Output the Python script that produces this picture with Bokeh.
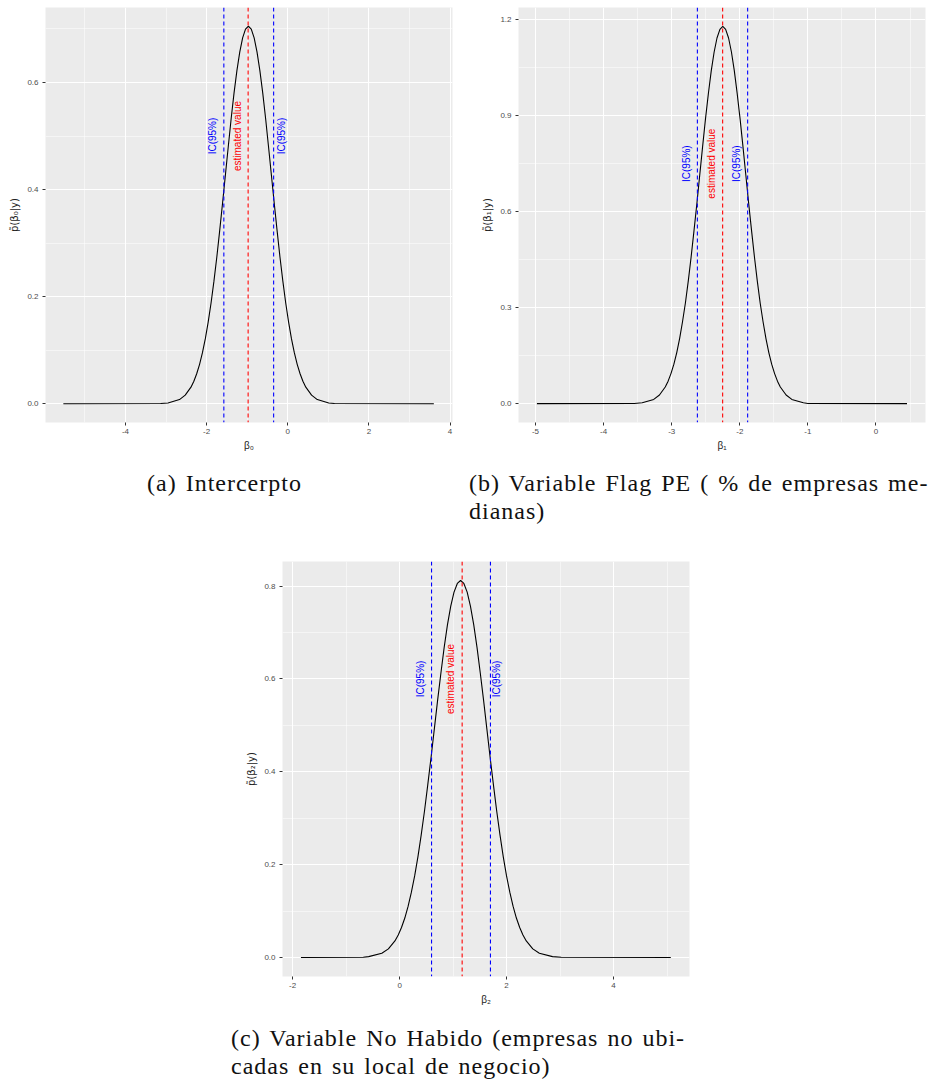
import math
from bokeh.plotting import figure
from bokeh.models import Range1d, FixedTicker, PrintfTickFormatter, Span, Div, Spacer
from bokeh.layouts import row, column
from bokeh.core.properties import value
from bokeh.embed import file_html
from bokeh.resources import INLINE

# ---------------- data ----------------
# (a) Intercepto: posterior marginal of beta0
a_x = [-5.53, -3.13, -2.951, -2.668, -2.527, -2.385, -2.314, -2.244, -2.173, -2.102, -2.031, -1.961, -1.890,
       -1.819, -1.748, -1.678, -1.607, -1.536, -1.465, -1.395, -1.324, -1.253, -1.182, -1.112, -1.041, -0.970,
       -0.899, -0.828, -0.758, -0.687, -0.616, -0.545, -0.475, -0.404, -0.333, -0.262, -0.192, -0.121, -0.050,
       0.021, 0.091, 0.162, 0.233, 0.304, 0.374, 0.445, 0.587, 0.728, 1.011, 1.15, 3.60]
a_y = [0.0, 0.0004, 0.0015, 0.0078, 0.0161, 0.0310, 0.0420, 0.0561, 0.0737, 0.0954, 0.1216, 0.1525, 0.1881,
       0.2289, 0.2740, 0.3228, 0.3744, 0.4276, 0.4808, 0.5322, 0.5801, 0.6222, 0.6571, 0.6833, 0.6995, 0.705,
       0.6995, 0.6833, 0.6571, 0.6222, 0.5801, 0.5322, 0.4808, 0.4276, 0.3744, 0.3228, 0.2740, 0.2289, 0.1881,
       0.1525, 0.1216, 0.0954, 0.0737, 0.0561, 0.0420, 0.0310, 0.0161, 0.0078, 0.0015, 0.0004, 0.0]
a_lines = [-1.575, -0.977, -0.348]          # IC low, estimated value, IC high
a_text_x = [-1.86, -1.247, -0.165]
a_text_y = 0.5

# (b) Flag PE: posterior marginal of beta1
b_x = [-4.98, -3.55, -3.433, -3.264, -3.180, -3.095, -3.053, -3.011, -2.968, -2.926, -2.884, -2.842, -2.799,
       -2.757, -2.715, -2.673, -2.630, -2.588, -2.546, -2.504, -2.461, -2.419, -2.377, -2.335, -2.292, -2.250,
       -2.208, -2.165, -2.123, -2.081, -2.039, -1.996, -1.954, -1.912, -1.870, -1.827, -1.785, -1.743, -1.701,
       -1.658, -1.616, -1.574, -1.532, -1.489, -1.447, -1.405, -1.320, -1.236, -1.067, -1.00, 0.455]
b_y = [0.0, 0.0005, 0.0026, 0.0131, 0.0269, 0.0518, 0.0702, 0.0938, 0.1232, 0.1596, 0.2033, 0.2550, 0.3146,
       0.3828, 0.4583, 0.5398, 0.6262, 0.7151, 0.8041, 0.8900, 0.9701, 1.0405, 1.0989, 1.1427, 1.1698, 1.179,
       1.1698, 1.1427, 1.0989, 1.0405, 0.9701, 0.8900, 0.8041, 0.7151, 0.6262, 0.5398, 0.4583, 0.3828, 0.3146,
       0.2550, 0.2033, 0.1596, 0.1232, 0.0938, 0.0702, 0.0518, 0.0269, 0.0131, 0.0026, 0.0005, 0.0]
b_lines = [-2.623, -2.252, -1.885]
b_text_x = [-2.79, -2.413, -2.047]
b_text_y = 0.75

# (c) No Habido: posterior marginal of beta2
c_x = [-1.845, -0.68, -0.579, -0.333, -0.210, -0.088, -0.026, 0.035, 0.097, 0.158, 0.219, 0.281, 0.342,
       0.403, 0.465, 0.526, 0.588, 0.649, 0.710, 0.772, 0.833, 0.894, 0.956, 1.017, 1.079, 1.140,
       1.201, 1.263, 1.324, 1.386, 1.447, 1.508, 1.570, 1.631, 1.692, 1.754, 1.815, 1.877, 1.938,
       1.999, 2.061, 2.122, 2.183, 2.245, 2.306, 2.368, 2.490, 2.613, 2.859, 3.02, 5.07]
c_y = [0.0, 0.0004, 0.0018, 0.0090, 0.0185, 0.0357, 0.0484, 0.0646, 0.0849, 0.1099, 0.1400, 0.1756, 0.2167,
       0.2636, 0.3156, 0.3718, 0.4313, 0.4925, 0.5538, 0.6129, 0.6681, 0.7166, 0.7568, 0.7870, 0.8057, 0.812,
       0.8057, 0.7870, 0.7568, 0.7166, 0.6681, 0.6129, 0.5538, 0.4925, 0.4313, 0.3718, 0.3156, 0.2636, 0.2167,
       0.1756, 0.1400, 0.1099, 0.0849, 0.0646, 0.0484, 0.0357, 0.0185, 0.0090, 0.0018, 0.0004, 0.0]
c_lines = [0.597, 1.169, 1.698]
c_text_x = [0.392, 0.958, 1.81]
c_text_y = 0.6

assert len(a_x) == len(a_y) and len(b_x) == len(b_y) and len(c_x) == len(c_y)

line_colors = ["#0000FF", "#FF0000", "#0000FF"]
text_labels = ["IC(95%)", "estimated value", "IC(95%)"]

a_xticks, a_xminor = [-4, -2, 0, 2, 4], [-5, -3, -1, 1, 3]
a_yticks, a_yminor = [0.0, 0.2, 0.4, 0.6], [0.1, 0.3, 0.5, 0.7]
b_xticks, b_xminor = [-5, -4, -3, -2, -1, 0], [-4.5, -3.5, -2.5, -1.5, -0.5, 0.5]
b_yticks, b_yminor = [0.0, 0.3, 0.6, 0.9, 1.2], [0.15, 0.45, 0.75, 1.05]
c_xticks, c_xminor = [-2, 0, 2, 4], [-1, 1, 3, 5]
c_yticks, c_yminor = [0.0, 0.2, 0.4, 0.6, 0.8], [0.1, 0.3, 0.5, 0.7]

captions = {
    "a": "(a) Intercerpto",
    "b": "(b) Variable Flag PE ( % de empresas me-<br>dianas)",
    "c": "(c) Variable No Habido (empresas no ubi-<br>cadas en su local de negocio)",
}

SANS = "Liberation Sans"


def panel(xs, ys, lines, tx, ty, xr, yr, xt, xm, yt, ym, xlab, ylab, bl, br, bt, bb):
    p = figure(frame_width=407, frame_height=415, x_range=Range1d(*xr), y_range=Range1d(*yr),
               output_backend="svg", toolbar_location=None,
               min_border_left=bl, min_border_right=br, min_border_top=bt, min_border_bottom=bb)
    p.background_fill_color = "#EBEBEB"
    p.border_fill_color = "white"
    p.outline_line_color = None
    p.xaxis.ticker = FixedTicker(ticks=xt, minor_ticks=xm)
    p.yaxis.ticker = FixedTicker(ticks=yt, minor_ticks=ym)
    p.xaxis.formatter = PrintfTickFormatter(format="%d")
    p.yaxis.formatter = PrintfTickFormatter(format="%.1f")
    for g in (p.xgrid[0], p.ygrid[0]):
        g.grid_line_color = "white"
        g.grid_line_width = 1.1
        g.minor_grid_line_color = "white"
        g.minor_grid_line_width = 0.5
    for ax in (p.xaxis[0], p.yaxis[0]):
        ax.axis_line_color = None
        ax.major_tick_line_color = "#333333"
        ax.major_tick_out = 3
        ax.major_tick_in = 0
        ax.minor_tick_line_color = None
        ax.major_label_text_font = SANS
        ax.major_label_text_font_size = "8px"
        ax.major_label_text_color = "#4D4D4D"
        ax.axis_label_text_font = SANS
        ax.axis_label_text_font_size = "10px"
        ax.axis_label_text_color = "#222222"
        ax.axis_label_text_font_style = "normal"
    p.yaxis.axis_label_text_font = "DejaVu Sans"
    p.yaxis.axis_label_text_font_size = "10px"
    p.xaxis.major_label_standoff = 2
    p.xaxis.axis_label_standoff = 3
    p.yaxis.major_label_standoff = 3
    p.yaxis.axis_label_standoff = 4
    p.xaxis.axis_label = xlab
    p.yaxis.axis_label = ylab

    p.line(xs, ys, line_color="black", line_width=1.1)
    for loc, col in zip(lines, line_colors):
        p.add_layout(Span(location=loc, dimension="height", line_color=col,
                          line_dash="4 3", line_width=1.1))
    for xx, lab, col in zip(tx, text_labels, line_colors):
        p.text(x=[xx], y=[ty], text=[lab], angle=math.pi / 2, text_align="center",
               text_baseline="middle", text_font=value(SANS), text_font_size="10px",
               text_color=col)
    return p


pa = panel(a_x, a_y, a_lines, a_text_x, a_text_y, (-5.97, 4.06), (-0.035, 0.74),
           a_xticks, a_xminor, a_yticks, a_yminor, "β₀", "p\u0303(β₀|y)", 45, 13, 7, 33)
pb = panel(b_x, b_y, b_lines, b_text_x, b_text_y, (-5.25, 0.727), (-0.059, 1.238),
           b_xticks, b_xminor, b_yticks, b_yminor, "β₁", "p\u0303(β₁|y)", 53, 7, 7, 33)
pc = panel(c_x, c_y, c_lines, c_text_x, c_text_y, (-2.19, 5.42), (-0.041, 0.853),
           c_xticks, c_xminor, c_yticks, c_yminor, "β₂", "p\u0303(β₂|y)", 47, 6, 6, 33)


def cap(txt, w, h, pad):
    html = ('<div style="font-family:\'Liberation Serif\';font-size:24px;line-height:28px;'
            'padding-top:%dpx;letter-spacing:1.0px;word-spacing:2px;color:#111;white-space:nowrap">%s</div>'
            % (pad, txt))
    return Div(text=html, width=w, height=h, margin=0)


div_a = cap(captions["a"], 322, 100, 14)
div_b = cap(captions["b"], 463, 100, 14)
div_c = cap(captions["c"], 600, 75, 15)

layout = column(
    row(pa, pb, spacing=0),
    row(Spacer(width=147, height=100, margin=0), div_a, div_b, spacing=0),
    row(Spacer(width=235, height=454, margin=0), pc, spacing=0),
    row(Spacer(width=231, height=75, margin=0), div_c, spacing=0),
    spacing=0,
)

open("out.html", "w").write(file_html(layout, INLINE, title="Marginales posteriores"))
